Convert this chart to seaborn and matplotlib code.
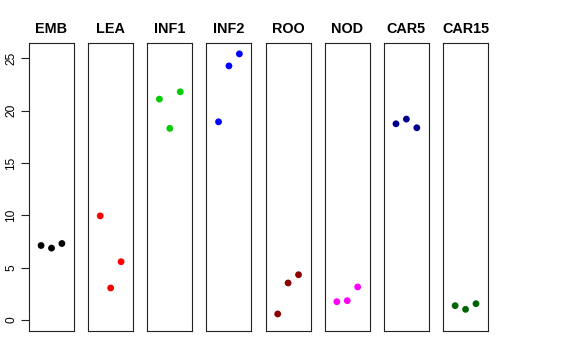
import matplotlib
matplotlib.use('Agg')
import matplotlib.pyplot as plt
import seaborn as sns
import pandas as pd

# values, three replicates per tissue
tissues = ['EMB', 'LEA', 'INF1', 'INF2', 'ROO', 'NOD', 'CAR5', 'CAR15']
colors = ['#000000', '#FF0000', '#00CD00', '#0000FF', '#8B0000', '#FF00FF', '#00008B', '#006400']
rep = [1, 2, 3]
emb = [7.11, 6.86, 7.30]
lea = [9.94, 3.05, 5.56]
inf1 = [21.1, 18.3, 21.8]
inf2 = [18.93, 24.27, 25.42]
roo = [0.57, 3.53, 4.32]
nod = [1.74, 1.84, 3.15]
car5 = [18.74, 19.19, 18.36]
car15 = [1.36, 1.01, 1.55]
values = [emb, lea, inf1, inf2, roo, nod, car5, car15]
yticks = [0, 5, 10, 15, 20, 25]

sns.set_style('white')
plt.rcParams['font.family'] = ['Liberation Sans', 'DejaVu Sans']
plt.rcParams['text.color'] = 'black'
plt.rcParams['ytick.color'] = 'black'
plt.rcParams['axes.labelcolor'] = 'black'

fig = plt.figure(figsize=(5.76, 3.6), dpi=100)

W, H = 576, 360
for i, (name, vals, col) in enumerate(zip(tissues, values, colors)):
    left = 29 + i * 59.15
    ax = fig.add_axes([left / W, 1 - 331 / H, 45 / W, 288 / H])
    df = pd.DataFrame({'rep': rep, 'value': vals})
    sns.scatterplot(data=df, x='rep', y='value', color=col, s=24,
                    edgecolor='none', ax=ax, legend=False)
    ax.set_xlim(-0.16, 4.16)
    ax.set_ylim(-1.06, 26.46)
    ax.set_xlabel('')
    ax.set_ylabel('')
    ax.set_xticks([])
    for sp in ax.spines.values():
        sp.set_color('#222222')
        sp.set_linewidth(0.8)
    ax.set_title(name, fontsize=10.4, fontweight='bold', pad=7, color='black')
    if i == 0:
        ax.set_yticks(yticks)
        ax.set_yticklabels([str(t) for t in yticks], rotation=90, va='center',
                           fontsize=8.6, color='black')
        ax.tick_params(axis='y', direction='out', length=5.5, width=0.8,
                       color='#222222', pad=3, left=True)
    else:
        ax.set_yticks([])

fig.savefig('out.png', dpi=100)
